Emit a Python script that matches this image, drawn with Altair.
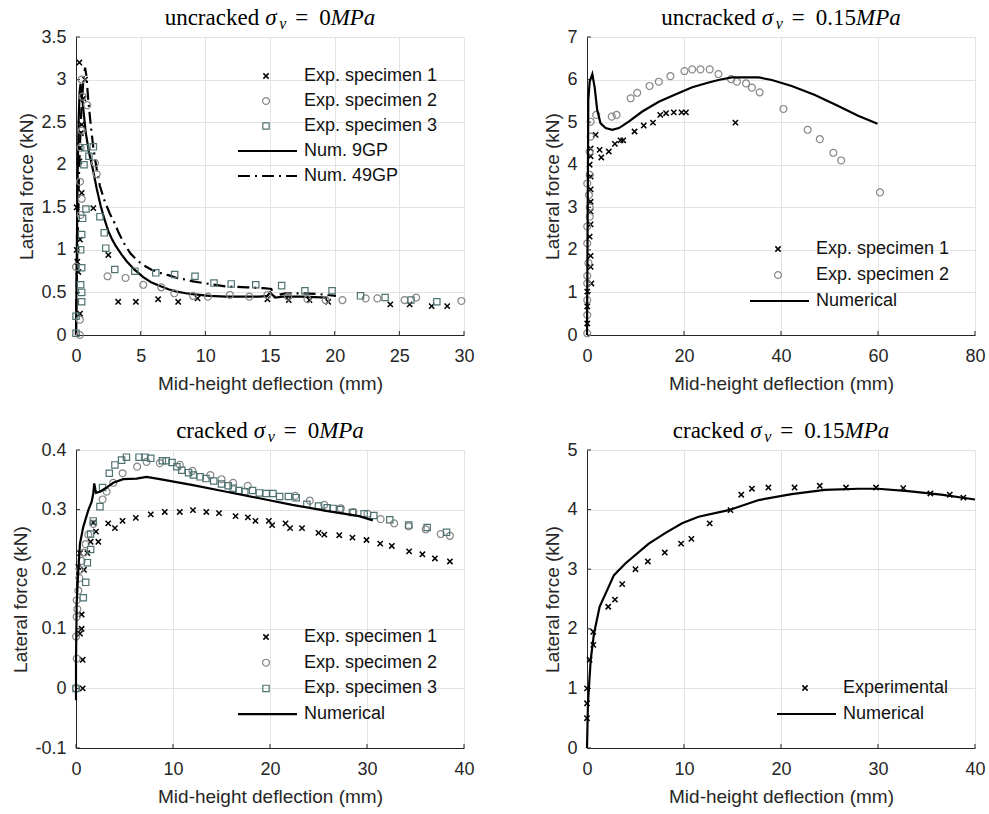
import altair as alt
import pandas as pd

FONT = "Liberation Sans"
SERIF = "Liberation Serif"
TXT = "#262626"
W, H = 388, 298

# ---------------- data: uncracked, sigma_v = 0 MPa ----------------
TL_S1_X = [0.26, 0.70, 0.57, 0.44, 0.38, 0.31, 0.26, 0.44, 0.05, 1.34, 0.31, 0.05, 0.10, 0.18, 0.31,
           2.5, 3.26, 4.63, 6.35, 7.9, 9.4, 14.8, 16.45, 18.05, 19.5, 24.3, 25.8, 27.5, 28.7]
TL_S1_Y = [3.2, 3.0, 2.78, 2.47, 2.37, 2.2, 2.04, 1.67, 1.5, 1.49, 1.12, 1.0, 0.86, 0.74, 0.25,
           0.94, 0.39, 0.39, 0.42, 0.39, 0.43, 0.42, 0.41, 0.41, 0.39, 0.36, 0.36, 0.34, 0.34]
TL_S2_X = [0.3, 0.3, 0.0, 0.36, 0.44, 0.31, 0.36, 0.44, 0.51, 0.44, 0.87, 1.47, 1.6, 2.44, 3.83, 5.2,
           6.6, 7.6, 9.05, 10.2, 11.9, 13.4, 14.8, 16.4, 17.9, 19.3, 20.6, 22.4, 23.3, 25.4, 26.3, 29.8]
TL_S2_Y = [0.0, 0.18, 0.8, 1.41, 1.6, 1.8, 2.2, 2.4, 2.8, 3.0, 2.7, 2.02, 1.89, 0.69, 0.67, 0.59,
           0.56, 0.49, 0.46, 0.45, 0.47, 0.45, 0.47, 0.45, 0.42, 0.41, 0.41, 0.43, 0.43, 0.41, 0.44, 0.4]
TL_S3_X = [0.0, 0.0, 0.36, 0.44, 0.44, 0.44, 0.36, 0.44, 0.51, 0.77, 1.85, 2.18, 2.3, 3.0, 4.55, 6.17,
           7.63, 9.2, 10.67, 12.0, 13.9, 15.9, 17.7, 19.8, 22.0, 23.9, 25.9, 27.9, 0.62, 0.7, 1.34, 1.0]
TL_S3_Y = [0.02, 0.22, 0.59, 0.5, 0.39, 0.79, 1.0, 1.18, 1.37, 1.48, 1.39, 1.2, 1.02, 0.77, 0.75, 0.73,
           0.71, 0.69, 0.61, 0.6, 0.59, 0.58, 0.52, 0.52, 0.46, 0.44, 0.41, 0.39, 2.0, 2.2, 2.21, 2.1]
TL_N9_X = [0, 0.05, 0.12, 0.2, 0.28, 0.35, 0.5, 0.75, 1.0, 1.3, 1.6, 1.9, 2.2, 2.5, 2.8, 3.1, 3.5, 3.9,
           4.5, 5.2, 5.8, 6.5, 7.2, 7.8, 8.5, 9.0, 10.3, 11.6, 12.8, 14.2, 14.8, 15.0, 15.2, 15.4, 16.0,
           17.5, 19.45]
TL_N9_Y = [0, 0.8, 1.8, 2.5, 2.85, 2.95, 2.75, 2.38, 2.15, 1.95, 1.72, 1.52, 1.36, 1.22, 1.12, 1.04,
           0.95, 0.87, 0.77, 0.68, 0.62, 0.575, 0.535, 0.51, 0.49, 0.48, 0.46, 0.45, 0.45, 0.45, 0.46,
           0.5, 0.47, 0.44, 0.45, 0.45, 0.44]
TL_N49_X = [0, 0.1, 0.25, 0.4, 0.55, 0.7, 0.8, 0.95, 1.15, 1.34, 1.6, 1.85, 2.2, 2.6, 3.0, 3.3, 3.7,
            4.2, 4.7, 5.2, 5.8, 6.5, 7.2, 7.8, 8.5, 9.05, 10.3, 11.6, 13.2, 14.5, 15.1, 15.35, 15.6,
            16.2, 17.5, 18.8, 20.1]
TL_N49_Y = [0, 1.0, 2.0, 2.6, 2.95, 3.14, 3.05, 2.76, 2.45, 2.2, 1.95, 1.75, 1.58, 1.43, 1.31, 1.2,
            1.08, 0.96, 0.88, 0.82, 0.77, 0.73, 0.7, 0.67, 0.65, 0.63, 0.6, 0.57, 0.56, 0.55, 0.54,
            0.45, 0.47, 0.49, 0.49, 0.48, 0.46]

# ---------------- data: uncracked, sigma_v = 0.15 MPa ----------------
TR_S1_X = [0.05, 0.05, 0.05, 0.9, 0.75, 0.75, 0.55, 0.75, 0.75, 0.75, 0.75, 0.75, 0.55, 0.75, 0.75,
           1.78, 2.6, 2.95, 4.5, 5.75, 6.9, 7.47, 9.8, 11.7, 13.6, 15.1, 16.3, 17.9, 19.5, 20.4, 30.6]
TR_S1_Y = [0.27, 0.67, 1.02, 1.21, 1.6, 1.86, 2.31, 2.6, 2.9, 3.13, 3.42, 3.72, 4.0, 4.2, 4.38,
           4.7, 4.35, 4.17, 4.31, 4.49, 4.57, 4.57, 4.78, 4.92, 4.99, 5.17, 5.21, 5.23, 5.23, 5.23, 4.99]
TR_S2_X = [0.05, 0.05, 0.05, 0.05, 0.05, 0.3, 0.05, 0.05, 0.55, 0.55, 0.4, 0.05, 0.55, 0.55, 0.75,
           0.75, 1.9, 5.1, 6.1, 9.0, 10.35, 12.9, 14.8, 17.2, 20.1, 21.7, 23.4, 25.3, 27.1, 29.7, 30.9,
           32.8, 34.0, 35.6, 40.5, 45.5, 48.0, 50.8, 52.4, 60.4]
TR_S2_Y = [0.04, 0.47, 0.82, 1.21, 1.39, 1.69, 2.15, 2.55, 2.78, 3.0, 3.29, 3.56, 3.76, 4.31, 4.66,
           5.01, 5.17, 5.13, 5.17, 5.56, 5.69, 5.85, 5.95, 6.08, 6.2, 6.24, 6.24, 6.24, 6.13, 6.01, 5.95,
           5.91, 5.81, 5.70, 5.31, 4.82, 4.6, 4.28, 4.1, 3.35]
TR_N_X = [0, 0.15, 0.27, 0.55, 1.1, 1.6, 2.1, 2.8, 3.84, 5.2, 6.6, 8.6, 11.4, 14.8, 18.2, 21.7, 25.1,
          27.1, 29.9, 33.3, 35.4, 38.1, 42.2, 47.0, 51.8, 55.9, 59.9]
TR_N_Y = [0, 3.0, 5.52, 5.95, 6.13, 5.8, 5.29, 4.97, 4.86, 4.82, 4.86, 5.01, 5.25, 5.48, 5.65, 5.82,
          5.93, 5.99, 6.05, 6.05, 6.05, 5.99, 5.85, 5.64, 5.38, 5.15, 4.96]

# ---------------- data: cracked, sigma_v = 0 MPa ----------------
BL_S1_X = [0.69, 0.69, 0.41, 0.58, 0.58, 0.82, 0.24, 0.41, 1.17, 1.51, 2.3, 2.06, 1.78, 3.32, 4.01,
           4.8, 6.17, 7.71, 9.15, 10.7, 12.06, 13.43, 14.74, 16.45, 17.72, 18.5, 19.88, 20.22, 21.6,
           22.07, 23.3, 25.0, 25.6, 27.14, 28.5, 29.95, 31.36, 32.56, 34.34, 35.71, 37.0, 38.55]
BL_S1_Y = [0.0, 0.048, 0.092, 0.1, 0.124, 0.199, 0.204, 0.227, 0.227, 0.246, 0.246, 0.263, 0.278,
           0.277, 0.269, 0.281, 0.286, 0.292, 0.296, 0.296, 0.299, 0.296, 0.294, 0.289, 0.287, 0.281,
           0.281, 0.274, 0.277, 0.269, 0.269, 0.261, 0.258, 0.257, 0.253, 0.249, 0.243, 0.239, 0.23,
           0.225, 0.218, 0.213]
BL_S2_X = [0.0, 0.07, 0.0, 0.07, 0.14, 0.07, 0.24, 0.34, 0.41, 0.58, 0.82, 1.0, 1.27, 1.78, 2.74,
           3.15, 3.84, 4.8, 6.3, 7.27, 8.64, 10.7, 12.0, 13.85, 15.0, 16.2, 17.7, 22.6, 24.1, 25.6,
           27.3, 28.6, 30.05, 31.4, 32.8, 34.3, 36.05, 37.6, 38.55]
BL_S2_Y = [0.0, 0.05, 0.087, 0.12, 0.133, 0.148, 0.164, 0.185, 0.199, 0.214, 0.228, 0.242, 0.258,
           0.276, 0.317, 0.33, 0.345, 0.361, 0.372, 0.38, 0.378, 0.375, 0.365, 0.358, 0.351, 0.345,
           0.34, 0.323, 0.315, 0.308, 0.302, 0.296, 0.293, 0.284, 0.277, 0.272, 0.267, 0.259, 0.256]
BL_S3_X = [0.0, 0.75, 1.0, 1.17, 1.51, 1.51, 1.78, 2.47, 2.74, 3.43, 4.01, 4.7, 5.2, 6.5, 7.1, 7.7,
           8.9, 9.3, 9.9, 10.4, 10.9, 11.6, 12.1, 12.8, 13.4, 14.2, 15.0, 15.7, 16.2, 16.8, 17.4, 18.2,
           18.9, 19.6, 20.3, 21.0, 21.9, 22.7, 23.8, 25.0, 25.9, 26.5, 27.2, 28.5, 29.7, 30.7, 32.35,
           34.3, 36.2, 38.2]
BL_S3_Y = [0.0, 0.152, 0.178, 0.211, 0.233, 0.259, 0.281, 0.305, 0.337, 0.361, 0.375, 0.383, 0.388,
           0.388, 0.388, 0.386, 0.382, 0.382, 0.379, 0.372, 0.366, 0.362, 0.358, 0.355, 0.352, 0.348,
           0.343, 0.34, 0.336, 0.332, 0.33, 0.332, 0.328, 0.327, 0.327, 0.322, 0.322, 0.32, 0.309,
           0.306, 0.303, 0.302, 0.3, 0.295, 0.293, 0.29, 0.283, 0.274, 0.27, 0.262]
BL_N_X = [0, 0, 0.07, 0.24, 0.41, 0.75, 1.27, 1.61, 1.78, 1.88, 2.06, 2.47, 3.15, 3.84, 4.87, 6.24,
          7.27, 8.64, 12.06, 15.5, 18.9, 22.3, 25.8, 29.2, 30.6]
BL_N_Y = [-0.02, 0.048, 0.143, 0.199, 0.243, 0.271, 0.299, 0.313, 0.327, 0.344, 0.328, 0.33, 0.337,
          0.345, 0.351, 0.352, 0.355, 0.351, 0.341, 0.33, 0.319, 0.308, 0.298, 0.289, 0.282]

# ---------------- data: cracked, sigma_v = 0.15 MPa ----------------
BR_E_X = [0.0, 0.0, 0.0, 0.27, 0.65, 0.65, 2.19, 2.88, 3.63, 5.0, 6.27, 8.02, 9.7, 10.76, 12.65,
          14.8, 15.9, 17.0, 18.7, 21.4, 24.0, 26.7, 29.8, 32.6, 35.4, 37.4, 38.8]
BR_E_Y = [0.5, 0.75, 1.0, 1.48, 1.73, 1.95, 2.37, 2.49, 2.75, 3.0, 3.13, 3.28, 3.43, 3.51, 3.77,
          3.99, 4.25, 4.35, 4.37, 4.37, 4.4, 4.37, 4.37, 4.36, 4.27, 4.25, 4.2]
BR_N_X = [0, 0.1, 0.38, 0.72, 1.3, 2.78, 3.98, 6.37, 8.1, 9.8, 11.5, 14.6, 17.7, 21.1, 24.5, 28.0,
          30.0, 33.1, 36.5, 40.0]
BR_N_Y = [0, 0.75, 1.48, 1.92, 2.37, 2.9, 3.1, 3.43, 3.61, 3.77, 3.88, 3.99, 4.16, 4.26, 4.33, 4.35,
          4.35, 4.31, 4.25, 4.17]

LBL_S1, LBL_S2, LBL_S3 = "Exp. specimen 1", "Exp. specimen 2", "Exp. specimen 3"

MARKERS = {
    "x": dict(shape="M-1,-1L1,1M-1,1L1,-1", filled=False, color="#000000", strokeWidth=1.5,
              size=28, opacity=1),
    "o": dict(shape="circle", filled=False, color="#868686", strokeWidth=1.2, size=48, opacity=1),
    "s": dict(shape="square", filled=False, color="#4f7371", strokeWidth=1.2, size=40, opacity=1),
}
LINES = {
    "solid": dict(color="#000000", strokeWidth=2.2),
    "dashdot": dict(color="#000000", strokeWidth=2.2, strokeDash=[12, 5, 2, 5]),
}

ROMAN = {"u": .5, "n": .5, "c": .444, "r": .333, "a": .444, "k": .5, "e": .444, "d": .5,
         "0": .5, "1": .5, "5": .5, ".": .25}
ITAL = {"M": .833, "P": .611, "a": .5}
TFS = 23


def one():
    return pd.DataFrame({"d": [0]})


def title_layers(prefix, num):
    pre_w = sum(ROMAN[c] for c in prefix) * TFS
    num_w = sum(ROMAN[c] for c in num) * TFS
    mpa_w = sum(ITAL[c] for c in "MPa") * TFS
    total = pre_w + 6 + 54 + num_w + mpa_w
    sl = W / 2 - total / 2 + pre_w + 6
    base = -12
    out = []
    pieces = [
        (prefix, sl - 6, base, "right", "normal", TFS),
        ("σ", sl, base, "left", "italic", TFS),
        ("v", sl + 14, base + 4, "left", "italic", 16),
        ("=", sl + 36.5, base, "center", "normal", TFS),
        (num, sl + 54, base, "left", "normal", TFS),
        ("MPa", sl + 54 + num_w, base, "left", "italic", TFS),
    ]
    for txt, x, y, al, st, fs in pieces:
        out.append(alt.Chart(one()).mark_text(font=SERIF, fontSize=fs, fontStyle=st, align=al,
                                              baseline="alphabetic", color="#000000")
                   .encode(x=alt.value(x), y=alt.value(y), text=alt.value(txt)))
    return out


def legend_layers(items, tx, y0, dy):
    out = []
    for i, (kind, label) in enumerate(items):
        ry = y0 + i * dy
        if kind in MARKERS:
            out.append(alt.Chart(one()).mark_point(**MARKERS[kind])
                       .encode(x=alt.value(tx - 38), y=alt.value(ry)))
        else:
            out.append(alt.Chart(one()).mark_rule(**LINES[kind])
                       .encode(x=alt.value(tx - 66), x2=alt.value(tx - 7), y=alt.value(ry)))
        out.append(alt.Chart(one()).mark_text(font=FONT, fontSize=18, align="left",
                                              baseline="middle", color="#111111")
                   .encode(x=alt.value(tx), y=alt.value(ry), text=alt.value(label)))
    return out


def panel(xdom, xvals, ydom, yvals, series, legend, tx, ly0, ldy, prefix, num):
    X = alt.X("x:Q", scale=alt.Scale(domain=xdom, nice=False, zero=False),
              axis=alt.Axis(values=xvals, title="Mid-height deflection (mm)",
                            labelExpr="format(datum.value, '~g')"))
    Y = alt.Y("y:Q", scale=alt.Scale(domain=ydom, nice=False, zero=False),
              axis=alt.Axis(values=yvals, title="Lateral force (kN)",
                            labelExpr="replace(format(datum.value, '~g'), '\u2212', '-')"))
    layers = [
        alt.Chart(pd.DataFrame({"x": xvals})).mark_rule(color=TXT, strokeWidth=1)
        .encode(x=X, y=alt.value(H), y2=alt.value(H - 4)),
        alt.Chart(pd.DataFrame({"y": yvals})).mark_rule(color=TXT, strokeWidth=1)
        .encode(y=Y, x=alt.value(0), x2=alt.value(4)),
    ]
    for kind, xs, ys in series:
        df = pd.DataFrame({"x": xs, "y": ys, "i": range(len(xs))})
        if kind in MARKERS:
            layers.append(alt.Chart(df).mark_point(**MARKERS[kind]).encode(x=X, y=Y))
        else:
            layers.append(alt.Chart(df).mark_line(**LINES[kind])
                          .encode(x=X, y=Y, order="i:Q"))
    layers += legend_layers(legend, tx, ly0, ldy)
    layers += title_layers(prefix, num)
    return alt.layer(*layers).properties(width=W, height=H)


tl = panel([0, 30], [0, 5, 10, 15, 20, 25, 30], [0, 3.5], [0, 0.5, 1, 1.5, 2, 2.5, 3, 3.5],
           [("solid", TL_N9_X, TL_N9_Y), ("dashdot", TL_N49_X, TL_N49_Y),
            ("x", TL_S1_X, TL_S1_Y), ("o", TL_S2_X, TL_S2_Y), ("s", TL_S3_X, TL_S3_Y)],
           [("x", LBL_S1), ("o", LBL_S2), ("s", LBL_S3), ("solid", "Num. 9GP"),
            ("dashdot", "Num. 49GP")], 228, 39, 25, "uncracked", "0")

tr = panel([0, 80], [0, 20, 40, 60, 80], [0, 7], [0, 1, 2, 3, 4, 5, 6, 7],
           [("x", TR_S1_X, TR_S1_Y), ("o", TR_S2_X, TR_S2_Y), ("solid", TR_N_X, TR_N_Y)],
           [("x", LBL_S1), ("o", LBL_S2), ("solid", "Numerical")], 229, 212, 26,
           "uncracked", "0.15")

bl = panel([0, 40], [0, 10, 20, 30, 40], [-0.1, 0.4], [-0.1, 0, 0.1, 0.2, 0.3, 0.4],
           [("x", BL_S1_X, BL_S1_Y), ("o", BL_S2_X, BL_S2_Y), ("s", BL_S3_X, BL_S3_Y),
            ("solid", BL_N_X, BL_N_Y)],
           [("x", LBL_S1), ("o", LBL_S2), ("s", LBL_S3), ("solid", "Numerical")], 228, 187, 25.7,
           "cracked", "0")

br = panel([0, 40], [0, 10, 20, 30, 40], [0, 5], [0, 1, 2, 3, 4, 5],
           [("x", BR_E_X, BR_E_Y), ("solid", BR_N_X, BR_N_Y)],
           [("x", "Experimental"), ("solid", "Numerical")], 256, 238, 26, "cracked", "0.15")

chart = alt.concat(tl, tr, bl, br, columns=2, spacing={"row": 115, "column": 123},
                   bounds="flush").properties(
    padding={"left": 11, "top": 7, "right": 2, "bottom": 4},
    background="white",
).configure_view(stroke=None).configure_axis(
    domainColor=TXT, domainWidth=1, gridColor="#e3e3e3", gridWidth=1, ticks=False,
    labelFont=FONT, labelFontSize=18, labelColor=TXT, labelFlush=False, labelOverlap=False,
    titleFont=FONT, titleFontSize=19, titleColor=TXT, titleFontWeight="normal",
).configure_axisX(labelPadding=12, titlePadding=9).configure_axisY(labelPadding=10, titlePadding=4)

chart.save("out.html", embed_options={"renderer": "svg", "actions": False})
